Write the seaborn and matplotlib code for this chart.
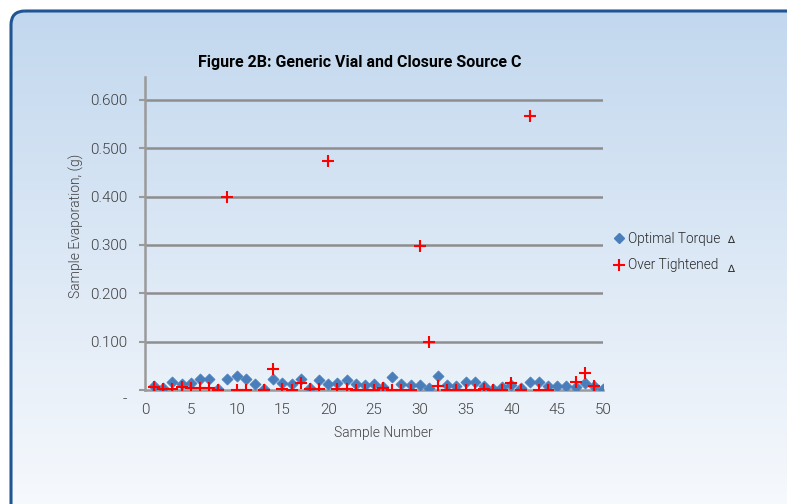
import numpy as np
import pandas as pd
import matplotlib
matplotlib.use("Agg")
import matplotlib.pyplot as plt
import seaborn as sns
from matplotlib.patches import FancyBboxPatch
from matplotlib.lines import Line2D
import matplotlib.transforms as mtransforms

sample = list(range(1, 51))
optimal_torque = [0.009, 0.005, 0.016, 0.012, 0.014, 0.022, 0.022, 0.003, 0.022, 0.028,
                  0.022, 0.012, 0.003, 0.022, 0.014, 0.012, 0.023, 0.005, 0.021, 0.012,
                  0.014, 0.021, 0.012, 0.010, 0.012, 0.006, 0.026, 0.012, 0.010, 0.010,
                  0.005, 0.028, 0.010, 0.009, 0.017, 0.017, 0.009, 0.003, 0.007, 0.010,
                  0.005, 0.017, 0.017, 0.009, 0.009, 0.009, 0.007, 0.015, 0.009, 0.003]
over_tightened = [0.007, 0.002, 0.002, 0.007, 0.005, 0.004, 0.004, 0.001, 0.400, 0.000,
                  0.000, np.nan, 0.001, 0.043, 0.003, 0.001, 0.015, 0.003, 0.003, 0.473,
                  0.003, 0.003, 0.001, 0.001, 0.000, 0.005, 0.001, 0.001, 0.001, 0.298,
                  0.100, 0.009, 0.000, 0.001, 0.001, 0.001, 0.002, 0.000, 0.000, 0.014,
                  0.000, 0.567, 0.000, 0.000, np.nan, np.nan, 0.017, 0.035, 0.008, np.nan]
y_ticks = [0.0, 0.1, 0.2, 0.3, 0.4, 0.5, 0.6]
y_tick_labels = ["-", "0.100", "0.200", "0.300", "0.400", "0.500", "0.600"]
x_ticks = [0, 5, 10, 15, 20, 25, 30, 35, 40, 45, 50]
series_names = ["Optimal Torque", "Over Tightened"]

sns.set_theme(style="white")
plt.rcParams["font.family"] = ["Roboto", "DejaVu Sans"]
LIGHT = 300

W, H = 787, 504
fig = plt.figure(figsize=(W / 100, H / 100), dpi=100)
fig.patch.set_facecolor("white")

# background panel with gradient
bg = fig.add_axes([0, 0, 1, 1])
bg.set_xlim(0, W)
bg.set_ylim(H, 0)
bg.axis("off")
top_c = np.array([0.757, 0.843, 0.933])
bot_c = np.array([0.965, 0.975, 0.990])
t = np.linspace(0, 1, 256)[:, None]
grad = (top_c[None, :] * (1 - t) + bot_c[None, :] * t)[:, None, :]
grad = np.repeat(grad, 2, axis=1)
im = bg.imshow(grad, extent=[0, W, H, 0], aspect="auto", zorder=0)
panel = FancyBboxPatch((11, 11), W + 40, H + 40,
                       boxstyle="round,pad=0,rounding_size=14",
                       transform=bg.transData, facecolor="none",
                       edgecolor="#1f5592", linewidth=2.2, zorder=1)
bg.add_patch(panel)
im.set_clip_path(panel)

# main axes
left, right = 145 / W, 603 / W
bottom, top = 1 - 390 / H, 1 - 76.7 / H
ax = fig.add_axes([left, bottom, right - left, top - bottom])
ax.set_facecolor("none")

df = pd.DataFrame({"Sample": sample, "Optimal": optimal_torque, "Over": over_tightened})
sns.scatterplot(data=df, x="Sample", y="Optimal", marker="D", s=32, color="#4a7ebb",
                edgecolor="#4a7ebb", linewidth=0.5, ax=ax, zorder=3, legend=False)
sns.scatterplot(data=df, x="Sample", y="Over", marker="+", s=80, color="#ff0000",
                linewidth=1.5, ax=ax, zorder=4, legend=False)

ax.set_xlim(0, 50)
ax.set_ylim(0, 0.648)
ax.set_xticks(x_ticks)
ax.set_xticklabels([str(v) for v in x_ticks], fontweight=LIGHT)
ax.set_yticks(y_ticks)
ax.set_yticklabels(y_tick_labels, fontweight=LIGHT)
for yv in y_ticks[1:]:
    ax.axhline(yv, color="#8e8e8e", linewidth=1.8, zorder=1)
for s in ["top", "right"]:
    ax.spines[s].set_visible(False)
for s in ["left", "bottom"]:
    ax.spines[s].set_color("#9a9a9a")
    ax.spines[s].set_linewidth(1.8)
ax.tick_params(axis="y", which="major", length=4, width=1.5, color="#9a9a9a",
               labelsize=11, labelcolor="#404040", pad=9, left=True)
ax.tick_params(axis="x", which="major", length=0, labelsize=11,
               labelcolor="#404040", pad=9)
lbl0 = ax.get_yticklabels()[0]
lbl0.set_transform(lbl0.get_transform() + mtransforms.ScaledTranslation(0, -8 / 100, fig.dpi_scale_trans))

ax.set_xlabel("")
ax.set_ylabel("")
fig.text(383 / W, 1 - 433 / H, "Sample Number", ha="center", va="center",
         fontsize=10, fontweight=LIGHT, color="#404040")
fig.text(76 / W, 1 - 226 / H, "Sample Evaporation, (g)", ha="center", va="center",
         rotation=90, fontsize=10, fontweight=LIGHT, color="#404040")

fig.text(360 / W, 1 - 62 / H, "Figure 2B: Generic Vial and Closure Source C",
         ha="center", va="center", fontsize=11.5, fontweight="bold", color="black")

handles = [
    Line2D([], [], linestyle="none", marker="D", markersize=5, color="#4a7ebb"),
    Line2D([], [], linestyle="none", marker="+", markersize=8, markeredgewidth=1.5, color="#ff0000"),
]
leg = fig.legend(handles, series_names, loc="center left",
                 bbox_to_anchor=(601 / W, 1 - 252 / H), frameon=False,
                 handlelength=0.8, handletextpad=0.25,
                 labelspacing=0.95, labelcolor="#262626",
                 prop={"weight": LIGHT, "size": 9.8})
fig.text(731 / W, 1 - 240 / H, "\u2206", fontsize=7.5, ha="center", va="center",
         family=["DejaVu Sans"], color="#262626")
fig.text(731 / W, 1 - 269 / H, "\u2206", fontsize=7.5, ha="center", va="center",
         family=["DejaVu Sans"], color="#262626")

fig.savefig("out.png", dpi=100)
